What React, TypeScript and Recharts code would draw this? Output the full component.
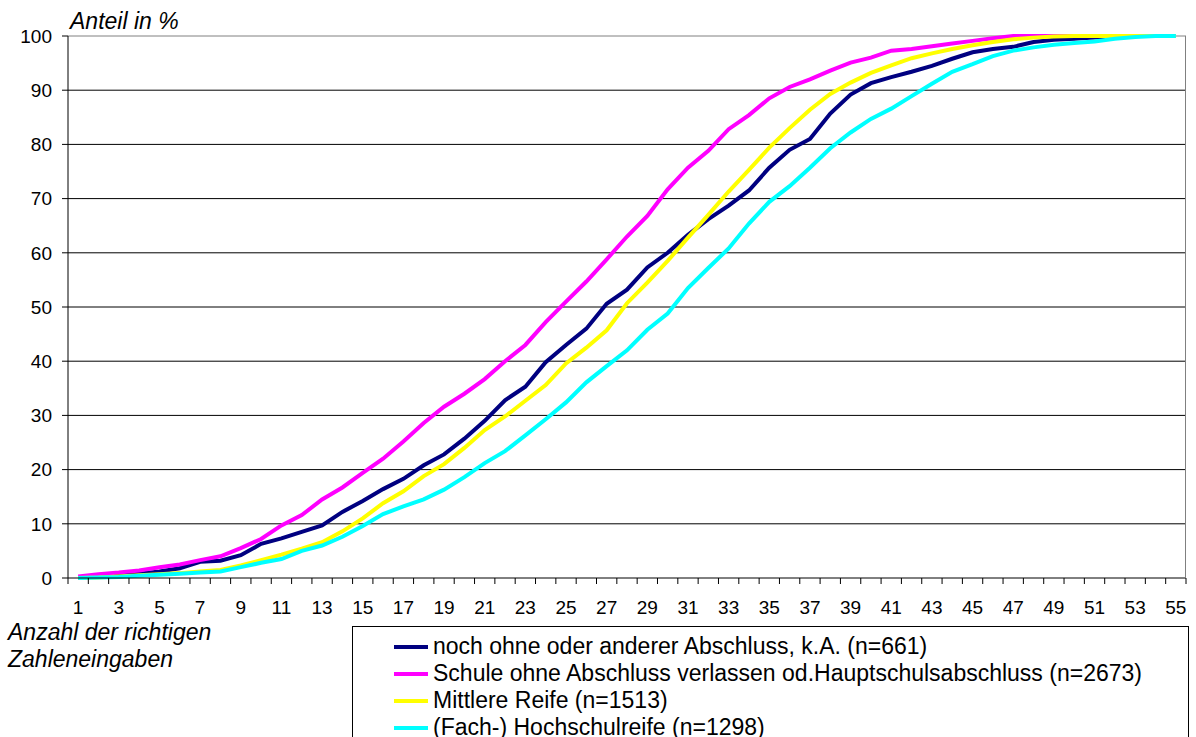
import React from "react";
import { LineChart, Line, XAxis, YAxis, CartesianGrid, ReferenceLine } from "recharts";

const categories = Array.from({ length: 55 }, (_, i) => i + 1);

const nochOhne = [
  0, 0.3, 0.5, 0.8, 1.2, 1.8, 3.0, 3.2, 4.2, 6.3,
  7.3, 8.5, 9.7, 12.2, 14.2, 16.4, 18.3, 20.8, 22.8, 25.7,
  29.0, 32.8, 35.3, 39.8, 43.0, 46.0, 50.6, 53.2, 57.3, 60.0,
  63.3, 66.2, 68.7, 71.5, 75.7, 79.0, 81.0, 85.7, 89.2, 91.3,
  92.4, 93.4, 94.5, 95.8, 97.0, 97.6, 98.0, 98.9, 99.3, 99.5,
  99.7, 99.9, 100, 100, 100,
];

const hauptschule = [
  0.3, 0.7, 1.0, 1.4, 2.0, 2.5, 3.3, 4.0, 5.5, 7.2,
  9.7, 11.6, 14.5, 16.7, 19.4, 22.0, 25.2, 28.6, 31.6, 34.0,
  36.7, 40.0, 43.0, 47.2, 51.0, 54.7, 58.8, 63.0, 66.8, 71.7,
  75.7, 78.8, 82.8, 85.4, 88.5, 90.6, 92.0, 93.6, 95.1, 96.0,
  97.3, 97.6, 98.1, 98.6, 99.1, 99.6, 100, 100, 100, 100,
  100, 100, 100, 100, 100,
];

const mittlereReife = [
  0, 0.1, 0.3, 0.5, 0.7, 0.9, 1.2, 1.5, 2.3, 3.3,
  4.3, 5.4, 6.6, 8.6, 11.0, 13.8, 16.0, 18.8, 21.0, 24.0,
  27.3, 29.8, 32.7, 35.6, 39.6, 42.5, 45.7, 50.7, 54.5, 58.5,
  62.8, 67.0, 71.3, 75.3, 79.4, 83.0, 86.4, 89.3, 91.4, 93.2,
  94.6, 95.9, 96.8, 97.6, 98.3, 98.9, 99.4, 99.7, 99.9, 100,
  100, 100, 100, 100, 100,
];

const hochschulreife = [
  0, 0.1, 0.2, 0.4, 0.6, 0.8, 1.0, 1.2, 2.0, 2.8,
  3.5, 5.0, 6.0, 7.6, 9.6, 11.8, 13.2, 14.5, 16.3, 18.6,
  21.2, 23.4, 26.3, 29.3, 32.4, 36.1, 39.1, 42.0, 45.8, 48.8,
  53.5, 57.2, 60.8, 65.4, 69.4, 72.3, 75.7, 79.3, 82.2, 84.7,
  86.6, 88.9, 91.2, 93.4, 94.8, 96.3, 97.3, 97.9, 98.4, 98.7,
  99.0, 99.5, 99.8, 100, 100,
];

const seriesList = [
  { key: "nochOhne", label: "noch ohne oder anderer Abschluss, k.A. (n=661)", color: "#000080", values: nochOhne },
  { key: "hauptschule", label: "Schule ohne Abschluss verlassen od.Hauptschulsabschluss (n=2673)", color: "#FF00FF", values: hauptschule },
  { key: "mittlereReife", label: "Mittlere Reife (n=1513)", color: "#FFFF00", values: mittlereReife },
  { key: "hochschulreife", label: "(Fach-) Hochschulreife (n=1298)", color: "#00FFFF", values: hochschulreife },
];

const yTicks = [0, 10, 20, 30, 40, 50, 60, 70, 80, 90, 100];

const data = categories.map((c, i) => {
  const row: any = { x: c };
  seriesList.forEach((s) => {
    row[s.key] = s.values[i];
  });
  return row;
});

const FONT = '"Liberation Sans", Arial, sans-serif';
const PLOT_LEFT = 68;
const PLOT_RIGHT = 1186;
const PLOT_TOP = 36;
const PLOT_BOTTOM = 578;
const BAND = (PLOT_RIGHT - PLOT_LEFT) / categories.length;

// Excel style: tick marks sit between categories, labels on every 2nd one
function XTick(props: any) {
  const { x, payload, index } = props;
  const half = BAND / 2;
  const last = index === categories.length - 1;
  return (
    <g>
      <line x1={x - half} x2={x - half} y1={PLOT_BOTTOM} y2={PLOT_BOTTOM + 6} stroke="#000" />
      {last && <line x1={x + half} x2={x + half} y1={PLOT_BOTTOM} y2={PLOT_BOTTOM + 6} stroke="#000" />}
      {index % 2 === 0 && (
        <text x={x} y={PLOT_BOTTOM + 36} textAnchor="middle" fontSize={19} fill="#000" fontFamily={FONT}>
          {payload.value}
        </text>
      )}
    </g>
  );
}

export default function App() {
  return (
    <div style={{ position: "relative", width: 1196, height: 737, background: "#fff", fontFamily: FONT, overflow: "hidden" }}>
      <style>{"body{margin:0}"}</style>
      <LineChart
        width={1196}
        height={737}
        data={data}
        margin={{ top: PLOT_TOP, right: 1196 - PLOT_RIGHT, left: 8, bottom: 129 }}
      >
        <CartesianGrid vertical={false} stroke="#000" horizontalValues={yTicks.slice(1, -1)} />
        <ReferenceLine y={100} stroke="#808080" />
        <XAxis
          dataKey="x"
          interval={0}
          padding={{ left: BAND / 2, right: BAND / 2 }}
          tick={<XTick />}
          tickLine={false}
          height={30}
          axisLine={{ stroke: "#000" }}
        />
        <YAxis
          domain={[0, 100]}
          ticks={yTicks}
          width={60}
          tickSize={6}
          tickMargin={10}
          tickLine={{ stroke: "#000" }}
          axisLine={{ stroke: "#000" }}
          tick={{ fill: "#000", fontSize: 19, fontFamily: FONT }}
        />
        {seriesList.map((s) => (
          <Line
            key={s.key}
            type="linear"
            dataKey={s.key}
            stroke={s.color}
            strokeWidth={4}
            dot={false}
            isAnimationActive={false}
          />
        ))}
      </LineChart>
      <div style={{ position: "absolute", left: PLOT_RIGHT - 1, top: PLOT_TOP, width: 1, height: PLOT_BOTTOM - PLOT_TOP, background: "#808080" }} />
      <div style={{ position: "absolute", left: 70, top: 7, fontSize: 23, fontStyle: "italic", lineHeight: "28px" }}>
        Anteil in %
      </div>
      <div style={{ position: "absolute", left: 8, top: 619, fontSize: 23, fontStyle: "italic", lineHeight: "27px" }}>
        Anzahl der richtigen
        <br />
        Zahleneingaben
      </div>
      <div
        style={{
          position: "absolute",
          left: 352,
          top: 626,
          width: 1189 - 352,
          height: 140,
          border: "1px solid #000",
          boxSizing: "border-box",
          paddingTop: 6,
        }}
      >
        {seriesList.map((s) => (
          <div key={s.key} style={{ display: "flex", alignItems: "center", height: 27, fontSize: 23, whiteSpace: "nowrap" }}>
            <div style={{ marginLeft: 41, width: 34, height: 4, background: s.color }} />
            <span style={{ marginLeft: 5 }}>{s.label}</span>
          </div>
        ))}
      </div>
    </div>
  );
}
